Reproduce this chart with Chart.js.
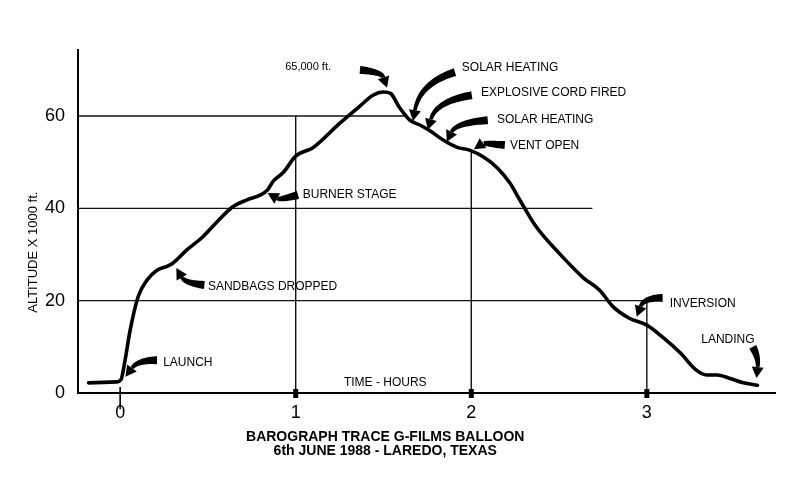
<!DOCTYPE html>
<html>
<head>
<meta charset="utf-8">
<script src="https://cdn.jsdelivr.net/npm/chart.js@4"></script>
<style>
  html, body { margin: 0; background: #fff; }
</style>
</head>
<body>
<canvas id="chart" width="800" height="482"></canvas>
<script>
// barograph trace
const hours = [-0.18, -0.02, 0.005, 0.028, 0.057, 0.102, 0.154, 0.21, 0.27, 0.30, 0.38, 0.47, 0.55, 0.64, 0.72, 0.80, 0.84, 0.87, 0.93, 1.00, 1.10, 1.25, 1.37, 1.44, 1.50, 1.54, 1.59, 1.65, 1.71, 1.76, 1.84, 1.92, 1.99, 2.07, 2.15, 2.22, 2.28, 2.37, 2.50, 2.64, 2.73, 2.81, 2.90, 3.00, 3.09, 3.19, 3.28, 3.34, 3.40, 3.47, 3.55, 3.63];
const altitude = [2.2, 2.4, 2.9, 7.1, 13.6, 20.8, 24.5, 26.6, 27.5, 28.1, 31.0, 33.8, 37.0, 40.3, 41.8, 42.9, 44.0, 45.8, 47.8, 51.3, 53.2, 58.4, 62.3, 64.5, 65.2, 64.9, 61.9, 59.1, 58.0, 56.9, 54.8, 53.2, 52.6, 51.1, 48.7, 45.5, 41.6, 36.0, 30.3, 24.9, 22.3, 18.6, 16.2, 14.7, 12.1, 8.7, 5.0, 3.9, 3.9, 3.2, 2.2, 1.7];

const hourTicks = [0, 1, 2, 3];
const altTicks = [0, 20, 40, 60];

// the hand-drawn grid only runs part way: [altitude, hour from, hour to]
const gridRows = [[60, -0.24, 1.62], [40, -0.24, 2.69], [20, -0.24, 3.0]];
// [hour, altitude from, altitude to]
const gridCols = [[1, 0, 60], [2, 0, 52.8], [3, 0, 20]];

// callouts, all in hour / altitude units: label, arrow tail, bend, tip
const notes = [
  { text: 'LAUNCH', at: [0.245, 6.5], tail: [0.21, 7.1], bend: [0.10, 7.1], tip: [0.03, 3.5] },
  { text: 'SANDBAGS DROPPED', at: [0.50, 23.0], tail: [0.48, 23.4], bend: [0.37, 23.8], tip: [0.32, 27.1] },
  { text: 'BURNER STAGE', at: [1.04, 42.9], tail: [1.013, 42.9], bend: [0.91, 41.8], tip: [0.84, 43.3] },
  { text: '65,000 ft.', at: [0.94, 70.6], tail: [1.366, 70.0], bend: [1.49, 69.5], tip: [1.52, 66.1], small: true },
  { text: 'SOLAR HEATING', at: [1.946, 70.4], tail: [1.907, 69.5], bend: [1.707, 67.1], tip: [1.668, 58.9] },
  { text: 'EXPLOSIVE CORD FIRED', at: [2.055, 65.0], tail: [2.003, 64.5], bend: [1.799, 63.2], tip: [1.753, 57.0] },
  { text: 'SOLAR HEATING', at: [2.146, 59.1], tail: [2.094, 59.1], bend: [1.912, 58.5], tip: [1.861, 54.4] },
  { text: 'VENT OPEN', at: [2.22, 53.5], tail: [2.191, 53.7], bend: [2.066, 54.1], tip: [2.015, 52.8] },
  { text: 'INVERSION', at: [3.13, 19.3], tail: [3.09, 20.6], bend: [2.982, 20.6], tip: [2.943, 16.5] },
  { text: 'LANDING', at: [3.31, 11.5], tail: [3.603, 10.0], bend: [3.637, 7.6], tip: [3.625, 3.25] }
];

const FONT = '"Liberation Sans", Arial, Helvetica, sans-serif';
Chart.defaults.font.family = FONT;
Chart.defaults.color = '#000';

const trace = hours.map((h, i) => ({ x: h, y: altitude[i] }));

const gridSets = [
  ...gridRows.map(([a, h0, h1]) => [{ x: h0, y: a }, { x: h1, y: a }]),
  ...gridCols.map(([h, a0, a1]) => [{ x: h, y: a0 }, { x: h, y: a1 }])
].map(pts => ({
  data: pts,
  borderColor: '#111',
  borderWidth: 1.4,
  pointRadius: 0,
  tension: 0
}));

//Tapered hand-drawn style arrow, pixel points
const drawArrow = (ctx, p0, p1, p2) => {
  const dx = p2.x - p1.x, dy = p2.y - p1.y;
  const len = Math.hypot(dx, dy) || 1;
  const ux = dx / len, uy = dy / len;
  const headLen = 11, headW = 12;
  const base = { x: p2.x - ux * headLen, y: p2.y - uy * headLen };
  const left = [], right = [];
  const N = 24;
  for (let i = 0; i <= N; i++) {
    const t = i / N, mt = 1 - t;
    const x = mt * mt * p0.x + 2 * mt * t * p1.x + t * t * base.x;
    const y = mt * mt * p0.y + 2 * mt * t * p1.y + t * t * base.y;
    const tx = 2 * mt * (p1.x - p0.x) + 2 * t * (base.x - p1.x);
    const ty = 2 * mt * (p1.y - p0.y) + 2 * t * (base.y - p1.y);
    const tl = Math.hypot(tx, ty) || 1;
    const nx = -ty / tl, ny = tx / tl;
    const w = (8 * (1 - t) + 3.5 * t) / 2;
    left.push([x + nx * w, y + ny * w]);
    right.push([x - nx * w, y - ny * w]);
  }
  ctx.beginPath();
  left.forEach(([x, y], i) => i ? ctx.lineTo(x, y) : ctx.moveTo(x, y));
  right.reverse().forEach(([x, y]) => ctx.lineTo(x, y));
  ctx.closePath();
  ctx.fill();
  ctx.beginPath();
  ctx.moveTo(p2.x, p2.y);
  ctx.lineTo(base.x - uy * headW / 2, base.y + ux * headW / 2);
  ctx.lineTo(base.x + uy * headW / 2, base.y - ux * headW / 2);
  ctx.closePath();
  ctx.fill();
};

const decorations = {
  id: 'decorations',
  afterDatasetsDraw(chart) {
    const { ctx, chartArea } = chart;
    const xs = chart.scales.x, ys = chart.scales.y;
    const px = ([h, a]) => ({ x: xs.getPixelForValue(h), y: ys.getPixelForValue(a) });
    ctx.save();
    ctx.fillStyle = '#000';
    ctx.strokeStyle = '#000';

    // tick marks on the time axis
    hourTicks.forEach(v => {
      const x = xs.getPixelForValue(v);
      if (v === 0) {
        ctx.lineWidth = 1.6;
        ctx.beginPath();
        ctx.moveTo(x, chartArea.bottom - 6);
        ctx.lineTo(x, chartArea.bottom + 16);
        ctx.stroke();
      } else {
        ctx.fillRect(x - 2.5, chartArea.bottom - 4, 5, 9);
      }
    });

    // callouts
    ctx.textBaseline = 'middle';
    ctx.textAlign = 'left';
    notes.forEach(n => {
      drawArrow(ctx, px(n.tail), px(n.bend), px(n.tip));
      ctx.font = (n.small ? '11px ' : '12px ') + FONT;
      const p = px(n.at);
      ctx.fillText(n.text, p.x, p.y);
    });

    ctx.font = '12px ' + FONT;
    ctx.textAlign = 'center';
    ctx.fillText('TIME - HOURS', xs.getPixelForValue(1.51), chartArea.bottom - 10);

    // axis title
    ctx.save();
    ctx.translate(chartArea.left - 45, ys.getPixelForValue(30.5));
    ctx.rotate(-Math.PI / 2);
    ctx.font = '13px ' + FONT;
    ctx.fillText('ALTITUDE X 1000 ft.', 0, 0);
    ctx.restore();

    // caption
    ctx.font = 'bold 14px "Liberation Sans Narrow", ' + FONT;
    const cx = xs.getPixelForValue(1.51);
    ctx.fillText('BAROGRAPH TRACE G-FILMS BALLOON', cx, chartArea.bottom + 44);
    ctx.fillText('6th JUNE 1988 - LAREDO, TEXAS', cx, chartArea.bottom + 58);
    ctx.restore();
  }
};

new Chart(document.getElementById('chart'), {
  type: 'line',
  data: {
    datasets: [
      {
        data: trace,
        borderColor: '#000',
        borderWidth: 3.6,
        pointRadius: 0,
        cubicInterpolationMode: 'monotone',
        borderJoinStyle: 'round',
        borderCapStyle: 'round'
      },
      ...gridSets
    ]
  },
  options: {
    responsive: false,
    animation: false,
    layout: { padding: { top: 50, right: 25, left: 0, bottom: 0 } },
    plugins: { legend: { display: false }, tooltip: { enabled: false } },
    scales: {
      x: {
        type: 'linear',
        min: -0.24,
        max: 3.73,
        grid: { display: false },
        border: { display: true, color: '#000', width: 2 },
        ticks: { font: { size: 18 }, color: '#000', padding: 1 },
        afterBuildTicks: s => { s.ticks = hourTicks.map(v => ({ value: v })); },
        afterFit: s => { s.height = 89; }
      },
      y: {
        type: 'linear',
        min: 0,
        max: 74.3,
        grid: { display: false },
        border: { display: true, color: '#000', width: 2 },
        ticks: { font: { size: 18 }, color: '#000', padding: 5 },
        afterBuildTicks: s => { s.ticks = altTicks.map(v => ({ value: v })); },
        afterFit: s => { s.width = 78; }
      }
    }
  },
  plugins: [decorations]
});
</script>
</body>
</html>
